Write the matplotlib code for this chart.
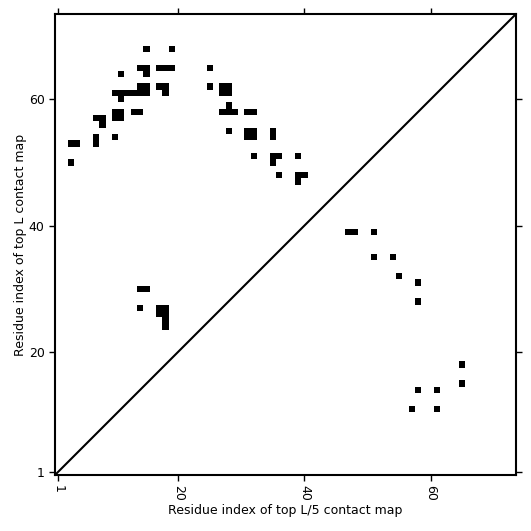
import numpy as np
import matplotlib
matplotlib.use("Agg")
import matplotlib.pyplot as plt

L = 73
# top L contacts (upper triangle): residue i (x), residue j (y)
topL_i = [15, 19, 11, 14, 15, 17, 18, 19, 15, 14, 15, 17, 18, 10, 11, 12, 13, 14, 15, 18,
          11, 13, 14, 10, 11, 10, 11, 7, 8, 8, 7, 7, 10, 3, 4, 3,
          25, 25, 27, 28, 27, 28, 28, 27, 28, 29, 31, 32, 28, 31, 32, 31, 32, 35, 35, 32,
          35, 36, 35, 39, 36, 39, 40, 39,
          14, 15, 14, 17, 18, 17, 18, 18, 18]
topL_j = [68, 68, 64, 65, 65, 65, 65, 65, 64, 62, 62, 62, 62, 61, 61, 61, 61, 61, 61, 61,
          60, 58, 58, 57, 57, 58, 58, 57, 57, 56, 53, 54, 54, 53, 53, 50,
          65, 62, 61, 61, 62, 62, 59, 58, 58, 58, 58, 58, 55, 54, 54, 55, 55, 54, 55, 51,
          51, 51, 50, 51, 48, 48, 48, 47,
          30, 30, 27, 26, 26, 27, 27, 24, 25]
# top L/5 contacts (lower triangle)
topL5_i = [47, 48, 51, 51, 54, 55, 58, 58, 65, 65, 58, 61, 57, 61]
topL5_j = [39, 39, 39, 35, 35, 32, 31, 28, 18, 15, 14, 14, 11, 11]

ticks = [1, 20, 40, 60]

mat = np.zeros((L, L))
for i, j in zip(topL_i, topL_j):
    mat[j - 1, i - 1] = 1
for i, j in zip(topL5_i, topL5_j):
    mat[j - 1, i - 1] = 1

fig = plt.figure(figsize=(5.31, 5.31), dpi=100)
ax = fig.add_axes([55/531, 56/531, 461/531, 461/531])
ax.imshow(mat, cmap="Greys", vmin=0, vmax=1, origin="lower",
          extent=(0.5, L + 0.5, 0.5, L + 0.5), interpolation="nearest", aspect="auto")
ax.plot([0.5, L + 0.5], [0.5, L + 0.5], color="black", lw=1.5)
ax.set_xlim(0.5, L + 0.5)
ax.set_ylim(0.5, L + 0.5)
ax.set_xticks(ticks)
ax.set_yticks(ticks)
ax.set_xticklabels([str(t) for t in ticks], rotation=270, fontsize=9)
ax.set_yticklabels([str(t) for t in ticks], fontsize=9)
ax.tick_params(direction="out", top=True, right=True, length=4, width=1)
for s in ax.spines.values():
    s.set_linewidth(1.5)
ax.set_xlabel("Residue index of top L/5 contact map", fontsize=9, labelpad=2)
ax.set_ylabel("Residue index of top L contact map", fontsize=9, labelpad=1)
fig.savefig("out.png", dpi=100)
